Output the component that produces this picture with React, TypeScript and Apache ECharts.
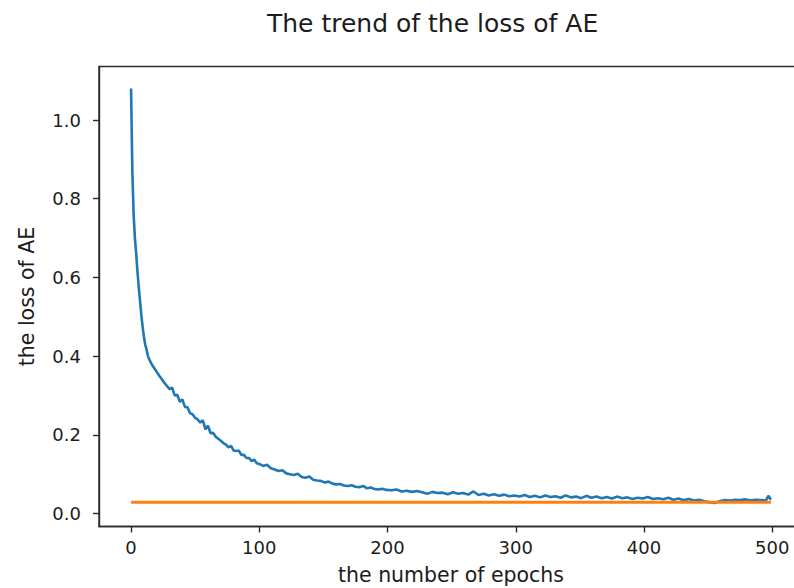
import React, { useEffect, useRef } from "react";
import * as echarts from "echarts";

const chartTitle = "The trend of the loss of AE";
const xAxisName = "the number of epochs";
const yAxisName = "the loss of AE";

const xTickValues = [0, 100, 200, 300, 400, 500];
const yTickValues = [0, 0.2, 0.4, 0.6, 0.8, 1.0];

const epochs = [
  0, 1, 2, 3, 4, 5, 6, 7, 8, 9, 10, 11, 12, 13, 14,
  16, 18, 20, 22, 24, 26, 28, 30, 32, 34, 36, 38, 40, 42, 44, 46, 48, 50,
  52, 54, 56, 58, 60, 62, 64, 66, 68, 70, 72, 74, 76, 78, 80, 82, 84, 86,
  88, 90, 92, 94, 96, 98, 100,
  103, 106, 109, 112, 115, 118, 121, 124, 127, 130, 133, 136, 139, 142, 145,
  148, 151, 154, 157, 160, 163, 166, 169, 172, 175, 178, 181, 184, 187, 190,
  193, 196, 199,
  203, 207, 211, 215, 219, 223, 227, 231, 235, 239, 243, 247, 251, 255, 259,
  263, 267, 271, 275, 279, 283, 287, 291, 295, 299, 303, 307, 311, 315, 319,
  323, 327, 331, 335, 339, 343, 347, 351, 355, 359, 363, 367, 371, 375, 379,
  383, 387, 391, 395, 399, 403, 407, 411, 415, 419, 423, 427, 431, 435, 439,
  443, 447, 451, 455, 459, 463, 467, 471, 475, 479, 483, 487, 491, 495, 497, 499,
];

const aeLoss = [
  1.08, 0.87, 0.76, 0.7, 0.66, 0.615, 0.575, 0.54, 0.505, 0.475, 0.45, 0.43, 0.418, 0.402, 0.393,
  0.38, 0.37, 0.36, 0.35, 0.341, 0.332, 0.324, 0.316, 0.32, 0.3, 0.302, 0.284, 0.29, 0.271,
  0.27, 0.255, 0.252, 0.243, 0.239, 0.231, 0.237, 0.214, 0.223, 0.204, 0.205, 0.195, 0.19, 0.185,
  0.179, 0.175, 0.168, 0.172, 0.16, 0.159, 0.16, 0.149, 0.149, 0.141, 0.141, 0.133, 0.137, 0.128, 0.126,
  0.121, 0.124, 0.115, 0.112, 0.108, 0.11, 0.102, 0.1, 0.098, 0.101, 0.093, 0.091, 0.094, 0.086, 0.084,
  0.083, 0.079, 0.081, 0.076, 0.074, 0.075, 0.071, 0.07, 0.072, 0.068, 0.067, 0.07, 0.064, 0.066, 0.062,
  0.061, 0.063, 0.06,
  0.059, 0.061, 0.056, 0.058, 0.055, 0.057, 0.054, 0.05, 0.055, 0.052, 0.053, 0.049, 0.054, 0.05, 0.052,
  0.048, 0.056, 0.047, 0.05, 0.046, 0.049, 0.045, 0.048, 0.044, 0.046, 0.043, 0.047, 0.042, 0.045, 0.041,
  0.046, 0.042, 0.044, 0.04, 0.046, 0.041, 0.043, 0.039, 0.045, 0.04, 0.043, 0.039, 0.042, 0.038, 0.043,
  0.039, 0.041, 0.037, 0.04, 0.038, 0.042, 0.037, 0.039, 0.036, 0.04, 0.035, 0.038, 0.034, 0.037, 0.033,
  0.035, 0.031, 0.029, 0.027, 0.031, 0.034, 0.033, 0.035, 0.034, 0.036, 0.033, 0.035, 0.034, 0.033, 0.045, 0.035,
];

const baselineEpochs = [0, 499];
const baselineLoss = [0.0285, 0.0285];

const FONT = "DejaVu Sans";
const TEXT = "#1c1c1c";
const SPINE = "#2a2a2a";

export default function App() {
  const ref = useRef<HTMLDivElement>(null);

  useEffect(() => {
    if (!ref.current) return;
    const chart = echarts.init(ref.current, undefined, { renderer: "svg" });
    const lossData = epochs.map((e, i) => [e, aeLoss[i]]);
    const baseData = baselineEpochs.map((e, i) => [e, baselineLoss[i]]);
    chart.setOption({
      animation: false,
      backgroundColor: "#ffffff",
      title: {
        text: chartTitle,
        left: 262,
        top: 6,
        textStyle: { fontFamily: FONT, fontSize: 25, fontWeight: "normal", color: TEXT },
      },
      grid: {
        left: 99,
        top: 66.5,
        right: 7,
        bottom: 61.5,
        outerBoundsMode: "none",
        containLabel: false,
        show: true,
        borderColor: SPINE,
        borderWidth: 1.4,
        backgroundColor: "transparent",
      },
      xAxis: {
        type: "value",
        min: -25,
        max: 524,
        name: xAxisName,
        nameLocation: "middle",
        nameGap: 38,
        nameTextStyle: { fontFamily: FONT, fontSize: 20.5, color: TEXT },
        splitLine: { show: false },
        axisLine: { show: true, onZero: false, lineStyle: { color: SPINE, width: 1.4 } },
        axisTick: { show: true, length: 6, lineStyle: { color: SPINE, width: 1.4 }, customValues: xTickValues },
        axisLabel: {
          fontFamily: FONT,
          fontSize: 18,
          color: TEXT,
          margin: 12,
          customValues: xTickValues,
          formatter: (v: number) => String(v),
        },
      },
      yAxis: {
        type: "value",
        min: -0.033,
        max: 1.136,
        name: yAxisName,
        nameLocation: "middle",
        nameGap: 62,
        nameTextStyle: { fontFamily: FONT, fontSize: 20.5, color: TEXT },
        splitLine: { show: false },
        axisLine: { show: true, onZero: false, lineStyle: { color: SPINE, width: 1.4 } },
        axisTick: { show: true, length: 6, lineStyle: { color: SPINE, width: 1.4 }, customValues: yTickValues },
        axisLabel: {
          fontFamily: FONT,
          fontSize: 18,
          color: TEXT,
          margin: 18,
          customValues: yTickValues,
          formatter: (v: number) => v.toFixed(1),
        },
      },
      series: [
        {
          type: "line",
          data: lossData,
          showSymbol: false,
          lineStyle: { color: "#1f77b4", width: 2.6 },
          z: 3,
        },
        {
          type: "line",
          data: baseData,
          showSymbol: false,
          lineStyle: { color: "#ff7f0e", width: 3 },
          z: 4,
        },
      ],
    });
    return () => chart.dispose();
  }, []);

  return (
    <div
      style={{
        position: "fixed",
        left: 0,
        top: 0,
        width: 794,
        height: 588,
        overflow: "hidden",
        background: "#fff",
      }}
    >
      <div ref={ref} style={{ width: 810, height: 588 }} />
    </div>
  );
}
